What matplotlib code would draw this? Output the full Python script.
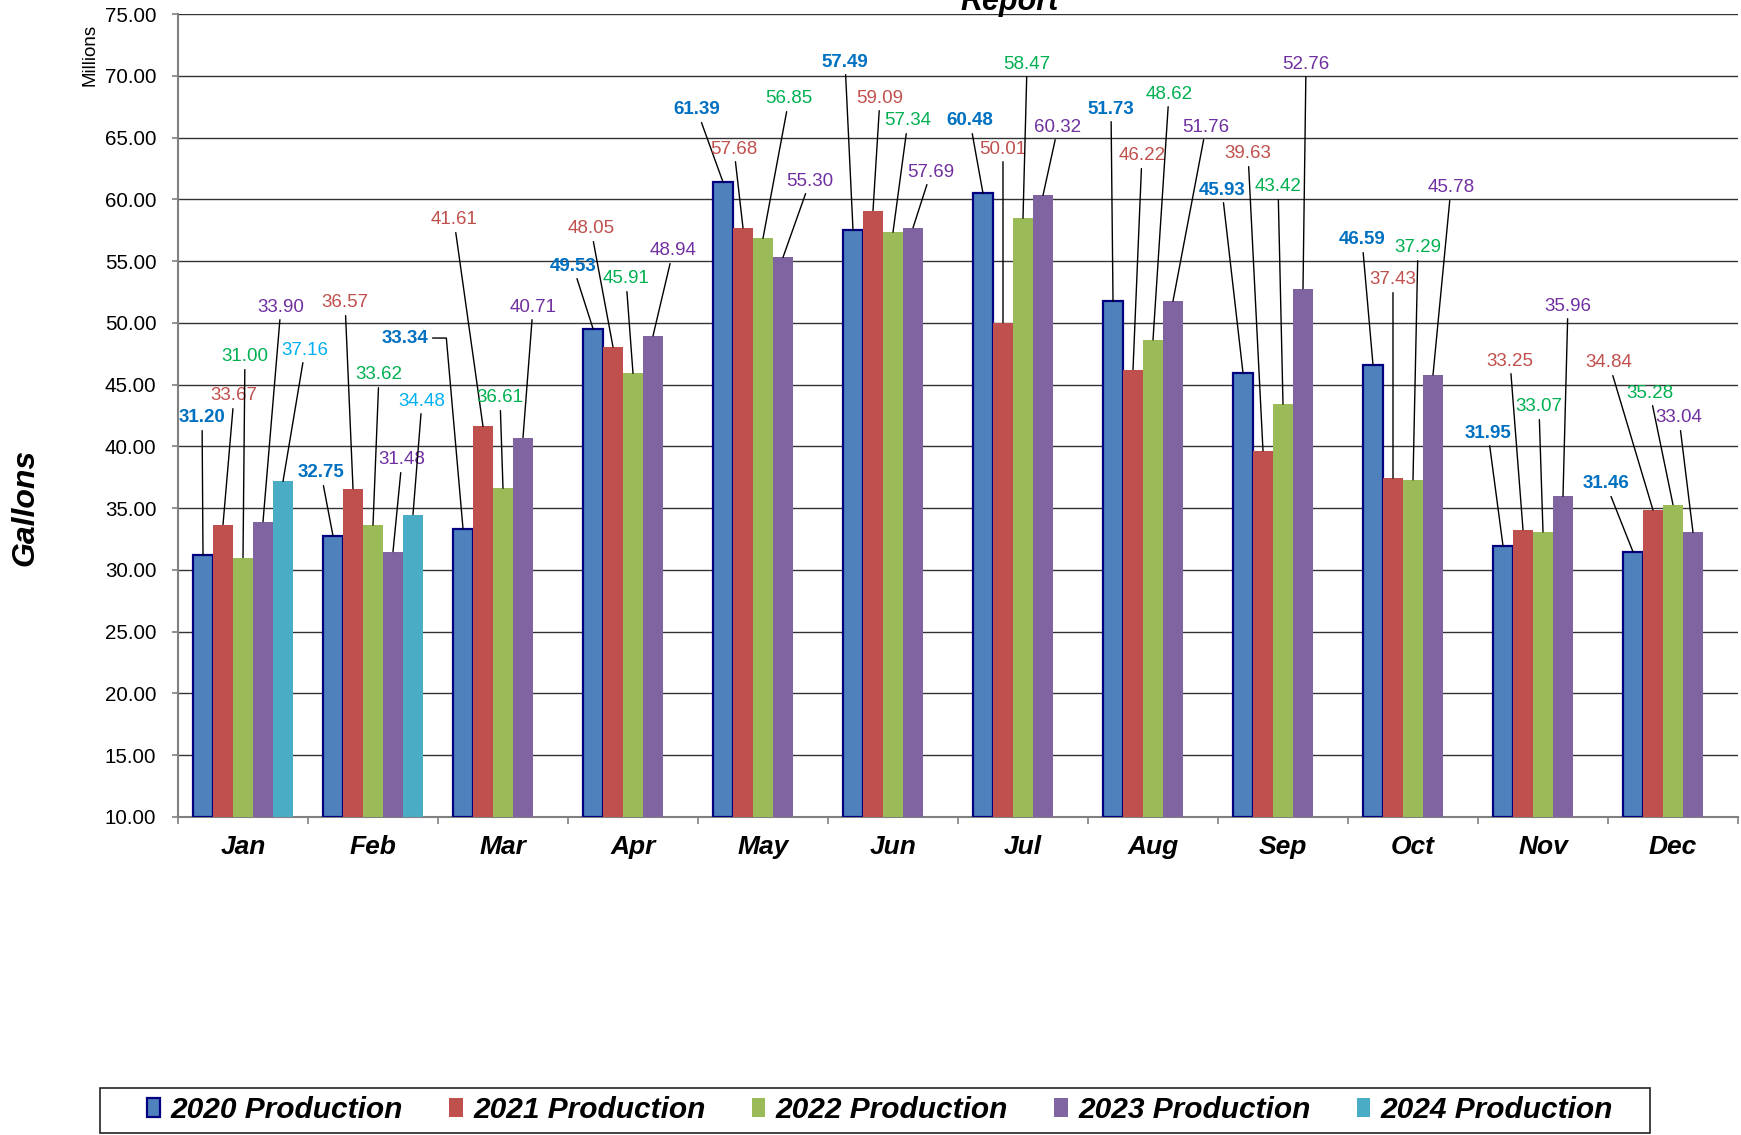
import numpy as np
import matplotlib
matplotlib.use("Agg")
import matplotlib.pyplot as plt
from matplotlib.patches import Patch, Rectangle

plt.rcParams['font.family'] = ['Liberation Sans', 'DejaVu Sans']

months = ['Jan', 'Feb', 'Mar', 'Apr', 'May', 'Jun', 'Jul', 'Aug', 'Sep', 'Oct', 'Nov', 'Dec']
series_names = ['2020 Production', '2021 Production', '2022 Production',
                '2023 Production', '2024 Production']

# monthly production, millions of gallons
prod_2020 = [31.20, 32.75, 33.34, 49.53, 61.39, 57.49, 60.48, 51.73, 45.93, 46.59, 31.95, 31.46]
prod_2021 = [33.67, 36.57, 41.61, 48.05, 57.68, 59.09, 50.01, 46.22, 39.63, 37.43, 33.25, 34.84]
prod_2022 = [31.00, 33.62, 36.61, 45.91, 56.85, 57.34, 58.47, 48.62, 43.42, 37.29, 33.07, 35.28]
prod_2023 = [33.90, 31.48, 40.71, 48.94, 55.30, 57.69, 60.32, 51.76, 52.76, 45.78, 35.96, 33.04]
prod_2024 = [37.16, 34.48]

# where each value label sits (x in month units, y in axis units)
lab_x = [
    [-0.315, 0.600, 1.246, 2.538, 3.492, 4.631, 5.592, 6.677, 7.531, 8.608, 9.577, 10.485],
    [-0.069, 0.785, 1.623, 2.677, 3.777, 4.900, 5.846, 6.915, 7.731, 8.846, 9.746, 10.508],
    [0.015, 1.046, 1.977, 2.946, 4.200, 5.115, 6.031, 7.123, 7.962, 9.038, 9.969, 10.823],
    [0.292, 1.223, 2.231, 3.308, 4.362, 5.292, 6.269, 7.408, 8.177, 9.292, 10.192, 11.046],
    [0.477, 1.377],
]
lab_y = [
    [42.30, 37.85, 48.77, 54.60, 67.23, 71.11, 66.34, 67.31, 60.75, 56.71, 41.08, 36.96],
    [44.08, 51.61, 58.33, 57.60, 64.07, 68.20, 64.07, 63.51, 63.67, 53.47, 46.91, 46.75],
    [47.24, 45.78, 43.92, 53.55, 68.12, 66.34, 70.95, 68.52, 61.00, 56.06, 43.19, 44.32],
    [51.28, 38.90, 51.28, 55.82, 61.48, 62.21, 65.85, 65.85, 70.95, 60.92, 51.36, 42.30],
    [47.80, 43.67],
]

bar_colors = ['#4F81BD', '#C0504D', '#9BBB59', '#8064A2', '#4BACC6']
label_colors = ['#0070C0', '#C0504D', '#00B050', '#7030A0', '#00B0F0']

fig = plt.figure(figsize=(17.41, 11.35), dpi=100)
ax = fig.add_axes([178 / 1741, 1 - 817 / 1135, 1560 / 1741, 803 / 1135])

x = np.arange(len(months))
width = 0.1538
all_series = [prod_2020, prod_2021, prod_2022, prod_2023, prod_2024]

for i, vals in enumerate(all_series):
    xs = x[:len(vals)] + (i - 2) * width
    if i == 0:
        ax.bar(xs, np.array(vals) - 10, width, bottom=10, color=bar_colors[i],
               edgecolor='#000080', linewidth=1.6, zorder=3)
    else:
        ax.bar(xs, np.array(vals) - 10, width, bottom=10, color=bar_colors[i],
               linewidth=0, zorder=3)
    for j, v in enumerate(vals):
        conn = 'arc3'
        if i == 0 and j == 2:
            # Mar 2020 label sits to the left, leader bends down to the bar
            conn = 'angle,angleA=0,angleB=95,rad=0'
        ax.annotate(f'{v:.2f}', xy=(xs[j], v), xytext=(lab_x[i][j], lab_y[i][j]),
                    textcoords='data', ha='center', va='center',
                    fontsize=13.5, color=label_colors[i],
                    fontweight='bold' if i == 0 else 'normal',
                    arrowprops=dict(arrowstyle='-', color='black', lw=1.0,
                                    shrinkA=1, shrinkB=0, connectionstyle=conn),
                    zorder=5)

ax.set_xlim(-0.5, 11.5)
ax.set_ylim(10, 75)
ax.set_yticks(np.arange(10, 76, 5))
ax.set_yticklabels([f'{t:.2f}' for t in np.arange(10, 76, 5)], fontsize=14.8)
ax.set_xticks(x)
ax.set_xticklabels(months, fontsize=19, fontweight='bold', fontstyle='italic')
ax.set_xticks(np.arange(-0.5, 12, 1), minor=True)
ax.tick_params(axis='x', which='major', length=0, pad=13)
ax.tick_params(axis='x', which='minor', length=5, color='#808080', width=1.2)
ax.tick_params(axis='y', length=4.5, color='#808080', width=1.2, pad=11)

ax.grid(axis='y', color='#333333', linewidth=1.0, zorder=0)
ax.set_axisbelow(True)
for s in ['top', 'right']:
    ax.spines[s].set_visible(False)
for s in ['left', 'bottom']:
    ax.spines[s].set_color('#808080')
    ax.spines[s].set_linewidth(1.5)

fig.text(25 / 1741, 1 - 507 / 1135, 'Gallons', rotation=90, ha='center', va='center',
         fontsize=23, fontweight='bold', fontstyle='italic')
fig.text(90 / 1741, 1 - 55 / 1135, 'Millions', rotation=90, ha='center', va='center',
         fontsize=13.5)
fig.text(1010 / 1741, 1 - 10 / 1135, 'Report', ha='center', va='baseline',
         fontsize=22, fontweight='bold', fontstyle='italic')

# legend: entries without frame, box drawn across the bottom band
handles = []
for i, name in enumerate(series_names):
    if i == 0:
        handles.append(Patch(facecolor=bar_colors[i], edgecolor='#000080', linewidth=1.6, label=name))
    else:
        handles.append(Patch(facecolor=bar_colors[i], edgecolor='none', label=name))
fig.patches.append(Rectangle((100 / 1741, 2 / 1135), 1550 / 1741, 45 / 1135,
                             transform=fig.transFigure, facecolor='white',
                             edgecolor='#222222', linewidth=1.2, zorder=1))
fig.legend(handles=handles, loc='center', ncol=5,
           bbox_to_anchor=(880 / 1741, 1 - 1110 / 1135),
           prop=dict(size=21.5, weight='bold', style='italic'),
           handlelength=0.45, handleheight=0.6, handletextpad=0.35,
           columnspacing=1.55, borderpad=0.3, borderaxespad=0, frameon=False)

fig.savefig('out.png', dpi=100)
